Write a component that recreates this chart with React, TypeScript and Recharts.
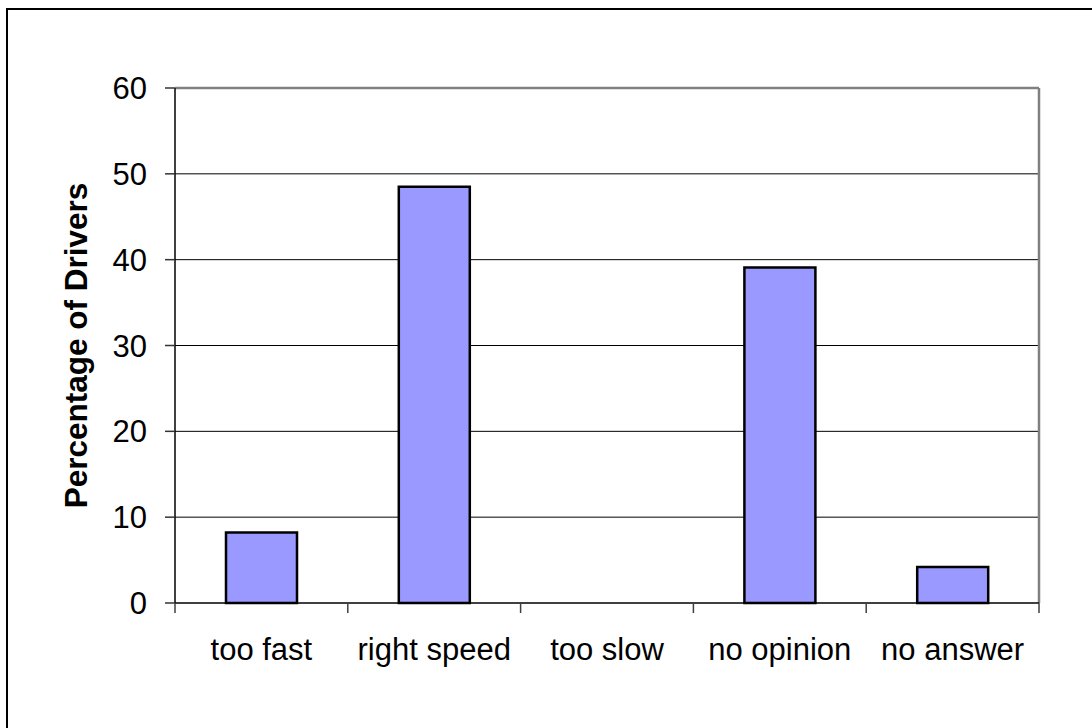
import React from 'react';
import { BarChart, Bar, XAxis, YAxis, CartesianGrid, ReferenceLine } from 'recharts';

const categories = ['too fast', 'right speed', 'too slow', 'no opinion', 'no answer'];
const percentages = [8.2, 48.5, 0, 39.1, 4.2];
const yTicks = [0, 10, 20, 30, 40, 50, 60];
const gridValues = [10, 20, 30, 40, 50];
const yLabel = 'Percentage of Drivers';

const data = categories.map((name, i) => ({ name, pos: i + 0.5, value: percentages[i] }));
const xTicks: number[] = [];
categories.forEach((_, i) => {
  xTicks.push(i, i + 0.5);
});
xTicks.push(categories.length);

const FONT = '"Liberation Sans", Arial, sans-serif';

const XTick = (props: any) => {
  const { x, y, payload } = props;
  const v = payload.value as number;
  if (Number.isInteger(v)) {
    return <line x1={x} y1={y} x2={x} y2={y + 10} stroke="#404040" strokeWidth={1.5} />;
  }
  return (
    <text x={x} y={y + 57} textAnchor="middle" fontFamily={FONT} fontSize={31} fill="#000">
      {categories[Math.floor(v)]}
    </text>
  );
};

const YLabel = (props: any) => {
  const vb = props.viewBox || { x: 0, y: 0, width: 0, height: 0 };
  const cx = vb.x + 76;
  const cy = vb.y + vb.height / 2;
  return (
    <text
      x={cx}
      y={cy}
      transform={`rotate(-90, ${cx}, ${cy})`}
      textAnchor="middle"
      dominantBaseline="central"
      fontFamily={FONT}
      fontSize={31.5}
      fontWeight="bold"
      fill="#000"
    >
      {yLabel}
    </text>
  );
};

export default function App() {
  return (
    <div style={{ position: 'absolute', left: 0, top: 0, width: 1092, height: 728, background: '#fff', overflow: 'hidden' }}>
      <div
        style={{
          position: 'absolute',
          left: 6,
          top: 8,
          width: 1086,
          height: 720,
          borderTop: '2px solid #000',
          borderLeft: '2px solid #000',
          boxSizing: 'border-box',
        }}
      />
      <div style={{ position: 'absolute', left: 0, top: 0 }}>
        <BarChart width={1092} height={728} data={data} margin={{ top: 88, right: 53, bottom: 0, left: 0 }}>
          <CartesianGrid vertical={false} horizontalValues={gridValues} stroke="#000" strokeWidth={1} />
          <XAxis
            dataKey="pos"
            type="number"
            domain={[0, categories.length]}
            ticks={xTicks}
            interval={0}
            tickLine={false}
            tickSize={0}
            tickMargin={0}
            height={125}
            axisLine={{ stroke: '#000', strokeWidth: 1.5 }}
            tick={<XTick />}
          />
          <YAxis
            type="number"
            domain={[0, 60]}
            ticks={yTicks}
            interval={0}
            width={175}
            tickSize={10}
            tickMargin={18}
            axisLine={{ stroke: '#000', strokeWidth: 1.5 }}
            tickLine={{ stroke: '#333', strokeWidth: 1.5 }}
            tick={{ fontFamily: FONT, fontSize: 31, fill: '#000' }}
            label={<YLabel />}
          />
          <ReferenceLine y={60} stroke="#808080" strokeWidth={2.5} ifOverflow="visible" />
          <ReferenceLine x={categories.length} stroke="#808080" strokeWidth={2.5} ifOverflow="visible" />
          <Bar dataKey="value" barSize={71} fill="#9999FF" stroke="#000" strokeWidth={2.5} isAnimationActive={false} />
        </BarChart>
      </div>
    </div>
  );
}
